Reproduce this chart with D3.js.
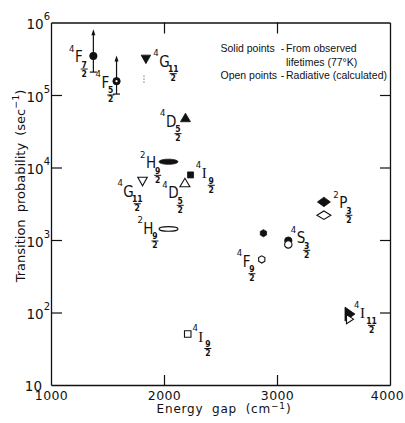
<!DOCTYPE html>
<html><head><meta charset="utf-8">
<script src="https://cdn.jsdelivr.net/npm/d3@7"></script>
<style>
html,body{margin:0;padding:0;background:#fff;}
svg{display:block;}
</style></head>
<body>
<script>
// ---- data ----
const solidLevel = ["4F7/2","4F5/2","4G11/2","4D5/2","2H9/2","4I9/2","4F9/2","4S3/2","2P3/2","4I11/2"];
const solidGap   = [1375, 1580, 1840, 2190, 2040, 2235, 2880, 3100, 3415, 3646];
const solidRate  = [3.45e5, 1.55e5, 3.1e5, 4.9e4, 1.2e4, 7.9e3, 1.24e3, 980, 3.35e3, 95];
const solidShape = ["circle","circledot","triDown","triUp","ellipse","square","hexagon","circle","diamond","triRight"];

const openLevel = ["4G11/2","4D5/2","2H9/2","4F9/2","4S3/2","2P3/2","4I11/2","4I9/2"];
const openGap   = [1810, 2185, 2040, 2865, 3100, 3415, 3646, 2210];
const openRate  = [6.4e3, 6.2e3, 1.42e3, 540, 870, 2.2e3, 81, 50.5];
const openShape = ["triDown","triUp","ellipse","hexagon","circle","diamond","triRight","square"];

// error bars (lower limit with cap, arrow upward to upper value)
const errGap  = [1375, 1580];
const errLow  = [2.07e5, 1.03e5];
const errHigh = [8.1e5, 3.5e5];
// dotted range under 4G11/2
const dotGap = [1823];
const dotLow = [1.47e5];
const dotHigh = [1.95e5];

// level labels, anchored in data space
const labelText = ["4F7/2","4F5/2","4G11/2","4D5/2","2H9/2","4I9/2","4G11/2","4D5/2","2H9/2","2P3/2","4S3/2","4F9/2","4I11/2","4I9/2"];
const labelGap  = [1212, 1447, 1958, 2018, 1841, 2334, 1640, 2038, 1817, 3551, 3174, 2696, 3735, 2304];
const labelRate = [2.85e5, 1.25e5, 2.46e5, 3.66e4, 9.75e3, 7.1e3, 3.95e3, 3.76e3, 1.21e3, 2.74e3, 900, 428, 83, 39.8];

const xTicks = [1000, 2000, 3000, 4000];
const yTicks = [10, 1e2, 1e3, 1e4, 1e5, 1e6];
const xTitle = "Energy gap (cm";
const yTitle = "Transition probability (sec";
const legendLines = [["Solid points", "From observed"], ["", "lifetimes  (77°K)"], ["Open points", "Radiative (calculated)"]];

// ---- drawing ----
const W = 405, H = 423;
const svg = d3.select("body").append("svg").attr("width", W).attr("height", H);
const x = d3.scaleLinear().domain([1000, 4000]).range([51, 390]);
const y = d3.scaleLog().domain([10, 1e6]).range([385, 22.5]);
const sans = "DejaVu Sans, sans-serif";
const cond = "DejaVu Sans Condensed, Liberation Sans, Arial, sans-serif";

function styleAxis(g) {
  g.select(".domain").attr("stroke", "#111").attr("stroke-width", 1.3);
  g.selectAll(".tick line").attr("stroke", "#111").attr("stroke-width", 1.2);
}

// bottom axis
const gx = svg.append("g").attr("transform", `translate(0,${y(10)})`)
  .call(d3.axisBottom(x).tickValues(xTicks).tickSizeInner(-10).tickSizeOuter(0).tickPadding(6).tickFormat(d3.format("d")));
styleAxis(gx);
gx.selectAll(".tick text").attr("font-family", sans).attr("font-size", 12.5).attr("fill", "#111").attr("letter-spacing", 0.4);
gx.selectAll(".tick").filter(d => d === 4000).select("text").attr("dx", -3);
gx.selectAll(".tick").filter(d => d === 1000 || d === 4000).select("line").remove();

// top axis
const gt = svg.append("g").attr("transform", `translate(0,${y(1e6)})`)
  .call(d3.axisTop(x).tickValues(xTicks.slice(1, 3)).tickSizeInner(-11).tickSizeOuter(0).tickFormat(""));
styleAxis(gt);

// left axis
const gy = svg.append("g").attr("transform", `translate(${x(1000)},0)`)
  .call(d3.axisLeft(y).tickValues(yTicks).tickSizeInner(-11).tickSizeOuter(0).tickPadding(2).tickFormat(""));
styleAxis(gy);
gy.selectAll(".tick").filter(d => d === 10 || d === 1e6).select("line").remove();
gy.selectAll(".tick text").each(function(d) {
  const t = d3.select(this).attr("font-family", sans).attr("font-size", 13.5).attr("fill", "#111").attr("dy", null);
  const e = Math.round(Math.log10(d));
  if (e === 1) {
    t.attr("x", -9).attr("y", 5).text("10");
  } else {
    t.attr("x", -1).attr("y", 6).text("10");
    t.append("tspan").attr("font-size", 10).attr("dy", -9).text(String(e));
  }
});

// right axis
const gr = svg.append("g").attr("transform", `translate(${x(4000)},0)`)
  .call(d3.axisRight(y).tickValues(yTicks.slice(1, 5)).tickSizeInner(-10).tickSizeOuter(0).tickFormat(""));
styleAxis(gr);

// axis titles
const xt = svg.append("text").attr("x", 224).attr("y", 412.5).attr("text-anchor", "middle")
  .attr("font-family", sans).attr("font-size", 12).attr("fill", "#111")
  .attr("letter-spacing", 0.8).attr("word-spacing", 4);
xt.append("tspan").text(xTitle);
xt.append("tspan").attr("font-size", 9).attr("dy", -4).text("−1");
xt.append("tspan").attr("dy", 4).text(")");

const yt = svg.append("text").attr("transform", "translate(25,186) rotate(-90)").attr("text-anchor", "middle")
  .attr("font-family", sans).attr("font-size", 13).attr("fill", "#111").attr("word-spacing", 3);
yt.append("tspan").text(yTitle);
yt.append("tspan").attr("font-size", 9.5).attr("dy", -6).text("−1");
yt.append("tspan").attr("dy", 6).text(")");

// legend
const lg = svg.append("g").attr("font-family", "Liberation Sans, Arial, sans-serif").attr("font-size", 10.5).attr("fill", "#111");
legendLines.forEach((ln, i) => {
  const by = 52 + i * 13.5;
  if (ln[0]) {
    lg.append("text").attr("x", 220.5).attr("y", by).text(ln[0]);
    lg.append("text").attr("x", 282.5).attr("y", by).attr("text-anchor", "middle").text("-");
  }
  lg.append("text").attr("x", 286).attr("y", by).text(ln[1]);
});

// marker shapes
function shapePath(shape, open) {
  switch (shape) {
    case "circle": case "circledot": { const r = 3.7; return `M${r},0A${r},${r} 0 1 1 ${-r},0A${r},${r} 0 1 1 ${r},0Z`; }
    case "triDown": { const w = 9.5, h = 8.5; return `M${-w/2},${-h/2}L${w/2},${-h/2}L0,${h/2}Z`; }
    case "triUp": { const w = 10, h = 8.5; return `M${-w/2},${h/2}L${w/2},${h/2}L0,${-h/2}Z`; }
    case "triRight": { const w = open ? 7 : 10, h = open ? 9 : 14; return `M${-w/2},${-h/2}L${w/2},0L${-w/2},${h/2}Z`; }
    case "ellipse": { const rx = 9.5, ry = open ? 2.3 : 2.6; return `M${rx},0A${rx},${ry} 0 1 1 ${-rx},0A${rx},${ry} 0 1 1 ${rx},0Z`; }
    case "square": { const s = open ? 6.5 : 6; return `M${-s/2},${-s/2}h${s}v${s}h${-s}Z`; }
    case "hexagon": { const r = 3.6; const pts = d3.range(6).map(k => { const a = Math.PI / 3 * k + Math.PI / 6; return [r * Math.cos(a), r * Math.sin(a)]; }); return "M" + pts.join("L") + "Z"; }
    case "diamond": { const w = open ? 14 : 13, h = open ? 8.5 : 9.5; return `M${-w/2},0L0,${-h/2}L${w/2},0L0,${h/2}Z`; }
  }
}

// error bars
const eb = svg.append("g").attr("stroke", "#111").attr("stroke-width", 1.2);
errGap.forEach((g, i) => {
  const px = x(g), y0 = y(errLow[i]), y1 = y(errHigh[i]);
  eb.append("line").attr("x1", px).attr("x2", px).attr("y1", y0).attr("y2", y1 + 4);
  eb.append("line").attr("x1", px - 3.5).attr("x2", px + 3.5).attr("y1", y0).attr("y2", y0);
  svg.append("path").attr("d", `M${px},${y1}L${px - 2},${y1 + 6}L${px + 2},${y1 + 6}Z`).attr("fill", "#111");
});
dotGap.forEach((g, i) => {
  svg.append("line").attr("x1", x(g)).attr("x2", x(g)).attr("y1", y(dotLow[i])).attr("y2", y(dotHigh[i]))
    .attr("stroke", "#777").attr("stroke-width", 1).attr("stroke-dasharray", "1.5,1.5");
});

// solid points
const solid = solidGap.map((g, i) => ({ g, r: solidRate[i], s: solidShape[i] }));
svg.append("g").selectAll("path").data(solid).join("path")
  .attr("transform", d => `translate(${x(d.g)},${y(d.r)})`)
  .attr("d", d => shapePath(d.s, false)).attr("fill", "#111").attr("stroke", "#111").attr("stroke-width", 0.8);
svg.append("g").selectAll("circle").data(solid.filter(d => d.s === "circledot")).join("circle")
  .attr("cx", d => x(d.g)).attr("cy", d => y(d.r)).attr("r", 1.1).attr("fill", "#fff");

// open points
const openPts = openGap.map((g, i) => ({ g, r: openRate[i], s: openShape[i] }));
svg.append("g").selectAll("path").data(openPts).join("path")
  .attr("transform", d => `translate(${x(d.g)},${y(d.r)})`)
  .attr("d", d => shapePath(d.s, true)).attr("fill", "#fff").attr("stroke", "#111").attr("stroke-width", 1.1);

// labels
const lab = svg.append("g").attr("fill", "#111");
labelText.forEach((t, i) => {
  const sup = t[0], letter = t[1], frac = t.slice(2).split("/");
  const g = lab.append("g").attr("transform", `translate(${x(labelGap[i])},${y(labelRate[i])})`);
  const lt = g.append("text").attr("x", 0).attr("y", 0)
    .attr("font-family", letter === "I" ? "Liberation Serif, serif" : cond)
    .attr("font-size", 15).text(letter);
  const w = lt.node().getComputedTextLength();
  g.append("text").attr("x", -0.5).attr("y", -10.5).attr("text-anchor", "end")
    .attr("font-family", cond).attr("font-size", 9.5).text(sup);
  const cx = w + (letter === "I" ? 4.5 : 1.5) + (frac[0].length > 1 ? 2 : 0);
  g.append("text").attr("x", cx).attr("y", 5.5).attr("text-anchor", "middle")
    .attr("font-family", cond).attr("font-size", 8.5).attr("font-weight", "bold").text(frac[0]);
  g.append("line").attr("x1", cx - 3.5).attr("x2", cx + 3.5).attr("y1", 7).attr("y2", 7).attr("stroke", "#111").attr("stroke-width", 1);
  g.append("text").attr("x", cx).attr("y", 14.5).attr("text-anchor", "middle")
    .attr("font-family", cond).attr("font-size", 8.5).attr("font-weight", "bold").text(frac[1]);
});
</script>
</body></html>
